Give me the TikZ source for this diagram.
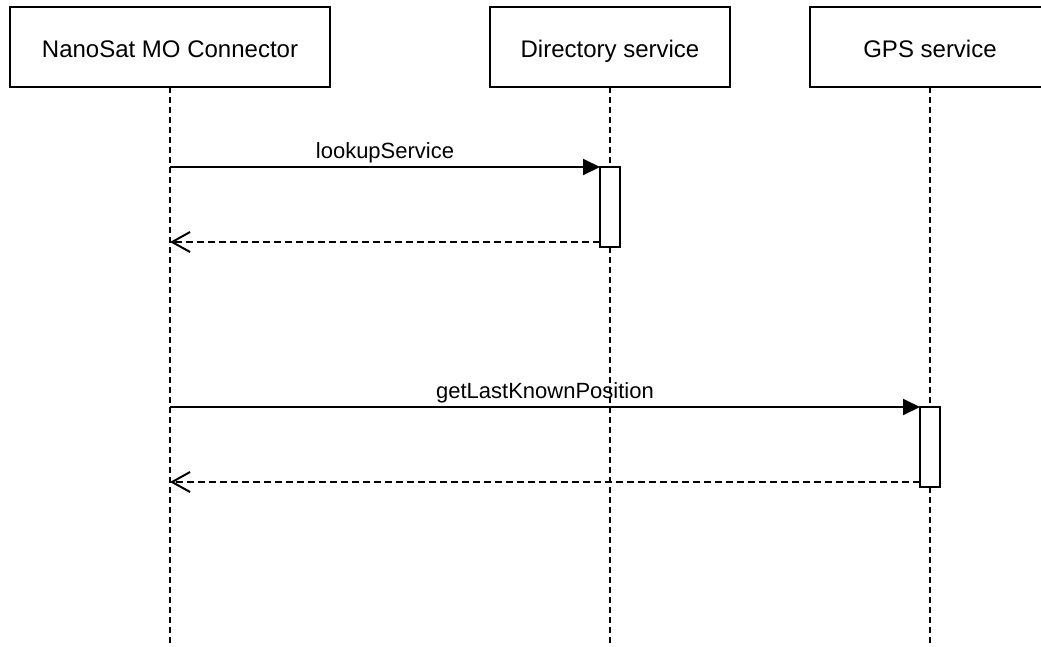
\documentclass[tikz,border=0pt]{standalone}
\usepackage{fontspec}
\setmainfont{Liberation Sans}
\usetikzlibrary{arrows.meta}
\begin{document}
\begin{tikzpicture}[x=1pt,y=-1pt,
  actor/.style={draw,line width=2pt,fill=white,minimum width=320pt,minimum height=80pt,
    inner sep=0pt,outer sep=0pt,font=\fontsize{24}{28}\selectfont,text height=20pt,text depth=0pt},
  lifeline/.style={line width=2pt,dash pattern=on 6pt off 4pt},
  activation/.style={draw,line width=2pt,fill=white,minimum width=20pt,minimum height=80pt,
    inner sep=0pt,outer sep=0pt},
  msg/.style={line width=2pt,-{Triangle[length=17pt,width=16pt]}},
  ret/.style={line width=2pt,dash pattern=on 7pt off 4pt,-{Straight Barb[length=18pt,width=20pt,line width=2pt]}},
  msglabel/.style={font=\fontsize{22}{26}\selectfont,inner sep=0pt,anchor=south,yshift=3pt}]
\useasboundingbox (0,0) rectangle (1041,646);
\clip (0,0) rectangle (1041,646);

% participants
\node[actor] (nmc) at (170,47) {NanoSat MO Connector};
\node[actor,minimum width=240pt] (dir) at (610,47) {Directory service};
\node[actor,minimum width=240pt] (gps) at (930,47) {GPS service};

% lifeline ends
\coordinate (nmcEnd) at (170,646);
\coordinate (dirEnd) at (610,646);
\coordinate (gpsEnd) at (930,646);

\draw[lifeline] (nmc.south) -- (nmcEnd);
\draw[lifeline] (dir.south) -- (dirEnd);
\draw[lifeline] (gps.south) -- (gpsEnd);

% activations
\node[activation] (actDir) at (610,207) {};
\node[activation] (actGps) at (930,447) {};

% message anchors on the connector lifeline
\coordinate (call1) at (170,167);
\coordinate (back1) at (170,242);
\coordinate (call2) at (170,407);
\coordinate (back2) at (170,482);

\draw[msg] (call1) -- node[msglabel] {lookupService} (actDir.north west);
\draw[ret] (actDir.west |- back1) -- (back1);

\draw[msg] (call2) -- node[msglabel] {getLastKnownPosition} (actGps.north west);
\draw[ret] (actGps.west |- back2) -- (back2);
\end{tikzpicture}
\end{document}
